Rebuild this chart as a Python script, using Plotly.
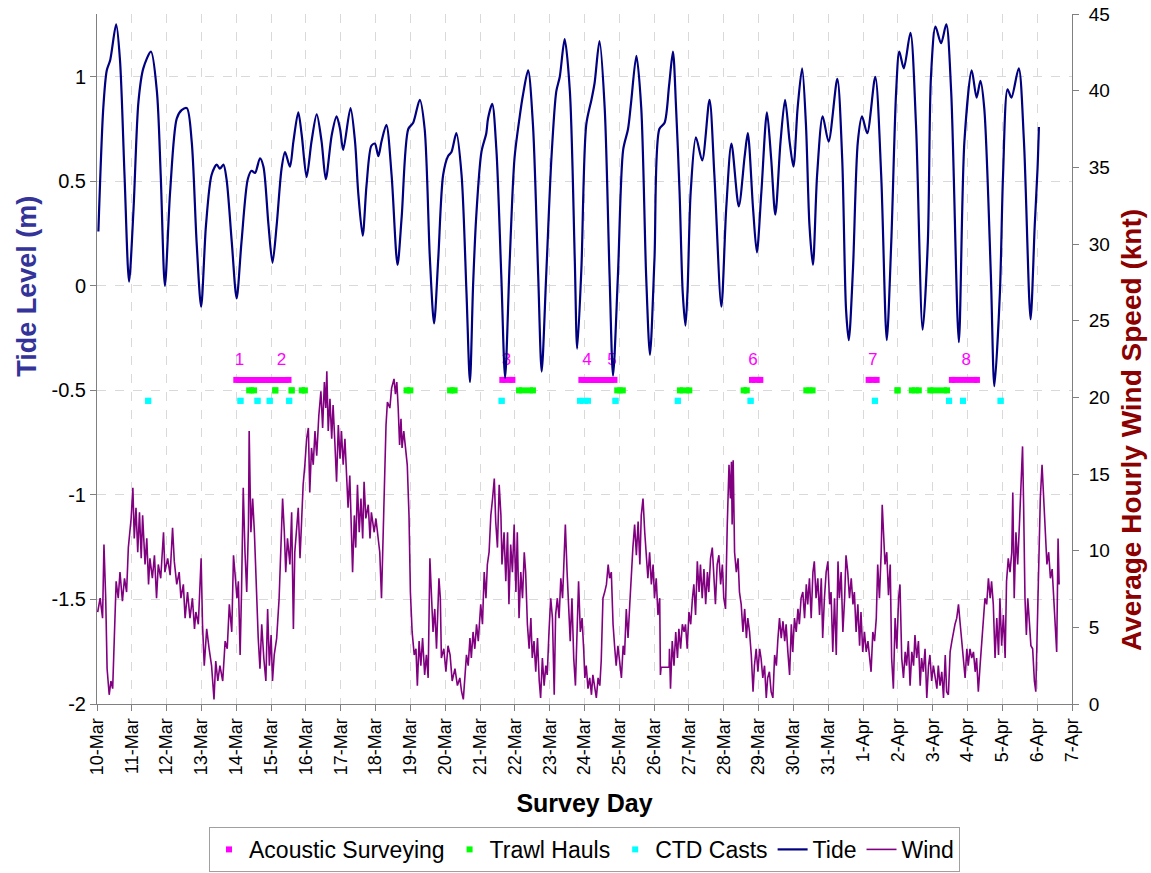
import pandas as pd
import plotly.graph_objects as go

# ---------------- data (day offsets from 10-Mar) ----------------
BASE = pd.Timestamp("2009-03-10")

tide_day = [
    0.04, 0.18, 0.28, 0.38, 0.55, 0.66, 0.79, 0.92, 1.05, 1.19,
    1.33, 1.55, 1.72, 1.83, 1.95, 2.10, 2.29, 2.43, 2.58, 2.72,
    2.86, 2.99, 3.13, 3.29, 3.44, 3.53, 3.63, 3.72, 3.87, 4.01,
    4.15, 4.33, 4.44, 4.54, 4.68, 4.78, 4.92, 5.04, 5.16, 5.30,
    5.40, 5.54, 5.64, 5.78, 5.88, 6.02, 6.16, 6.31, 6.45, 6.57,
    6.74, 6.88, 6.98, 7.07, 7.28, 7.41, 7.50, 7.63, 7.74, 7.88,
    7.98, 8.08, 8.17, 8.31, 8.46, 8.63, 8.75, 8.94, 9.08, 9.27,
    9.41, 9.56, 9.68, 9.80, 9.94, 10.08, 10.18, 10.32, 10.47, 10.61,
    10.71, 10.80, 10.89, 11.04, 11.18, 11.23, 11.35, 11.47, 11.61, 11.72,
    11.85, 11.99, 12.14, 12.23, 12.38, 12.52, 12.67, 12.77, 12.90, 13.05,
    13.19, 13.29, 13.43, 13.58, 13.72, 13.79, 13.91, 14.05, 14.20, 14.29,
    14.43, 14.58, 14.72, 14.82, 14.96, 15.11, 15.25, 15.34, 15.49, 15.63,
    15.77, 15.88, 16.01, 16.15, 16.30, 16.43, 16.54, 16.63, 16.73, 16.82,
    16.90, 16.96, 17.05, 17.20, 17.38, 17.59, 17.73, 17.93, 18.07, 18.22,
    18.43, 18.60, 18.69, 18.84, 18.95, 19.08, 19.24, 19.36, 19.48, 19.63,
    19.76, 19.89, 20.00, 20.12, 20.25, 20.36, 20.46, 20.56, 20.68, 20.84,
    21.01, 21.26, 21.40, 21.51, 21.59, 21.71, 21.85, 21.97, 22.12, 22.35,
    22.52, 22.68, 22.81, 22.95, 23.04, 23.17, 23.36, 23.52, 23.71, 23.86,
    23.95, 24.08, 24.24, 24.39, 24.53, 24.75, 24.91, 25.12, 25.26, 25.37,
    25.48, 25.67, 25.77, 25.93, 26.02, 26.15, 26.26, 26.47, 26.62, 26.81,
    26.93, 27.01, 27.05,
]
tide_m = [
    0.26, 0.85, 1.03, 1.08, 1.25, 1.08, 0.53, 0.02, 0.37, 0.88,
    1.04, 1.12, 0.93, 0.53, 0.00, 0.45, 0.80, 0.84, 0.85, 0.69,
    0.21, -0.10, 0.29, 0.53, 0.58, 0.56, 0.58, 0.51, 0.21, -0.06,
    0.21, 0.51, 0.55, 0.54, 0.61, 0.57, 0.30, 0.11, 0.29, 0.56,
    0.64, 0.57, 0.69, 0.83, 0.72, 0.52, 0.69, 0.82, 0.69, 0.51,
    0.72, 0.81, 0.75, 0.65, 0.85, 0.69, 0.45, 0.24, 0.48, 0.67,
    0.68, 0.62, 0.69, 0.77, 0.53, 0.10, 0.33, 0.75, 0.78, 0.89,
    0.75, 0.13, -0.18, 0.13, 0.53, 0.62, 0.64, 0.73, 0.53, -0.03,
    -0.46, 0.00, 0.33, 0.64, 0.73, 0.80, 0.87, 0.65, 0.05, -0.44,
    0.11, 0.61, 0.81, 0.91, 1.03, 0.77, 0.05, -0.41, 0.05, 0.61,
    0.93, 1.00, 1.18, 0.93, 0.13, -0.30, 0.08, 0.77, 0.89, 0.97,
    1.17, 0.85, 0.05, -0.43, 0.05, 0.65, 0.75, 0.88, 1.10, 0.85,
    0.05, -0.33, 0.13, 0.75, 0.78, 0.96, 1.12, 0.85, 0.45, -0.03,
    -0.19, -0.02, 0.45, 0.71, 0.60, 0.89, 0.53, -0.10, 0.37, 0.68,
    0.38, 0.62, 0.73, 0.37, 0.16, 0.45, 0.83, 0.61, 0.34, 0.69,
    0.89, 0.69, 0.57, 0.85, 1.04, 0.77, 0.29, 0.10, 0.53, 0.81,
    0.69, 0.99, 0.61, -0.11, -0.26, 0.08, 0.69, 0.81, 0.73, 1.00,
    0.53, -0.26, 0.21, 0.93, 1.12, 1.04, 1.21, 0.77, -0.21, 0.21,
    1.00, 1.24, 1.16, 1.25, 0.93, -0.27, 0.69, 1.03, 0.90, 0.98,
    0.85, 0.05, -0.48, -0.03, 0.53, 0.94, 0.90, 1.04, 0.69, -0.16,
    0.29, 0.56, 0.76,
]

wind_day = [
    0.02, 0.09, 0.16, 0.20, 0.25, 0.29, 0.35, 0.40, 0.45, 0.50,
    0.55, 0.61, 0.66, 0.73, 0.79, 0.85, 0.90, 0.98, 1.03, 1.07,
    1.12, 1.17, 1.22, 1.27, 1.31, 1.38, 1.43, 1.48, 1.52, 1.59,
    1.65, 1.71, 1.76, 1.83, 1.91, 1.95, 2.03, 2.10, 2.17, 2.22,
    2.29, 2.36, 2.41, 2.48, 2.53, 2.60, 2.67, 2.74, 2.80, 2.84,
    2.91, 2.99, 3.03, 3.08, 3.15, 3.22, 3.29, 3.36, 3.41, 3.47,
    3.53, 3.61, 3.68, 3.74, 3.80, 3.87, 3.92, 3.96, 4.02, 4.06,
    4.11, 4.15, 4.20, 4.25, 4.30, 4.35, 4.37, 4.42, 4.47, 4.52,
    4.58, 4.63, 4.68, 4.73, 4.79, 4.85, 4.90, 4.95, 5.00, 5.04,
    5.09, 5.16, 5.23, 5.28, 5.33, 5.38, 5.42, 5.47, 5.54, 5.59,
    5.64, 5.68, 5.73, 5.78, 5.83, 5.88, 5.92, 5.97, 6.02, 6.07,
    6.11, 6.16, 6.21, 6.26, 6.31, 6.37, 6.43, 6.48, 6.53, 6.57,
    6.60, 6.64, 6.69, 6.74, 6.78, 6.83, 6.88, 6.93, 6.98, 7.02,
    7.07, 7.12, 7.17, 7.21, 7.26, 7.31, 7.34, 7.39, 7.43, 7.48,
    7.53, 7.58, 7.63, 7.67, 7.72, 7.79, 7.84, 7.88, 7.96, 8.01,
    8.08, 8.12, 8.17, 8.21, 8.25, 8.30, 8.34, 8.41, 8.46, 8.53,
    8.57, 8.61, 8.65, 8.69, 8.73, 8.76, 8.81, 8.86, 8.91, 8.96,
    9.00, 9.05, 9.11, 9.16, 9.20, 9.25, 9.30, 9.35, 9.41, 9.46,
    9.51, 9.56, 9.61, 9.65, 9.70, 9.75, 9.82, 9.86, 9.89, 9.96,
    10.02, 10.08, 10.14, 10.20, 10.28, 10.35, 10.42, 10.47, 10.52, 10.56,
    10.61, 10.66, 10.71, 10.75, 10.80, 10.85, 10.90, 10.95, 11.02, 11.07,
    11.12, 11.17, 11.21, 11.26, 11.31, 11.36, 11.41, 11.45, 11.50, 11.55,
    11.60, 11.63, 11.69, 11.74, 11.79, 11.83, 11.88, 11.93, 11.98, 12.03,
    12.07, 12.12, 12.17, 12.22, 12.27, 12.31, 12.36, 12.41, 12.46, 12.50,
    12.55, 12.60, 12.65, 12.70, 12.74, 12.79, 12.84, 12.89, 12.93, 12.98,
    13.03, 13.08, 13.13, 13.17, 13.22, 13.27, 13.32, 13.37, 13.41, 13.45,
    13.50, 13.55, 13.59, 13.64, 13.69, 13.74, 13.79, 13.83, 13.88, 13.93,
    13.98, 14.01, 14.05, 14.10, 14.15, 14.20, 14.24, 14.29, 14.34, 14.39,
    14.44, 14.48, 14.53, 14.58, 14.63, 14.68, 14.72, 14.77, 14.82, 14.87,
    14.91, 14.96, 15.01, 15.06, 15.11, 15.15, 15.20, 15.25, 15.30, 15.34,
    15.39, 15.44, 15.49, 15.54, 15.59, 15.63, 15.68, 15.73, 15.78, 15.82,
    15.87, 15.92, 15.97, 16.01, 16.06, 16.11, 16.16, 16.18, 16.20, 16.43,
    16.44, 16.47, 16.52, 16.57, 16.62, 16.67, 16.71, 16.76, 16.81, 16.86,
    16.90, 16.95, 17.00, 17.05, 17.10, 17.14, 17.19, 17.24, 17.29, 17.33,
    17.38, 17.43, 17.48, 17.53, 17.57, 17.62, 17.67, 17.72, 17.76, 17.81,
    17.86, 17.91, 17.96, 18.00, 18.05, 18.10, 18.15, 18.19, 18.22, 18.24,
    18.27, 18.31, 18.36, 18.41, 18.45, 18.50, 18.55, 18.60, 18.65, 18.69,
    18.74, 18.79, 18.84, 18.88, 18.93, 18.98, 19.03, 19.07, 19.12, 19.17,
    19.22, 19.26, 19.31, 19.36, 19.41, 19.46, 19.51, 19.55, 19.60, 19.65,
    19.70, 19.75, 19.79, 19.84, 19.89, 19.94, 19.98, 20.03, 20.08, 20.13,
    20.17, 20.22, 20.27, 20.32, 20.37, 20.41, 20.46, 20.51, 20.56, 20.60,
    20.65, 20.70, 20.75, 20.80, 20.84, 20.89, 20.94, 20.99, 21.04, 21.08,
    21.13, 21.18, 21.23, 21.28, 21.32, 21.37, 21.42, 21.47, 21.51, 21.56,
    21.61, 21.66, 21.71, 21.75, 21.80, 21.85, 21.90, 21.94, 21.99, 22.04,
    22.09, 22.14, 22.18, 22.23, 22.28, 22.33, 22.38, 22.42, 22.47, 22.52,
    22.55, 22.59, 22.63, 22.68, 22.73, 22.78, 22.82, 22.87, 22.92, 22.97,
    23.02, 23.06, 23.11, 23.16, 23.21, 23.25, 23.30, 23.35, 23.40, 23.45,
    23.49, 23.54, 23.59, 23.64, 23.68, 23.73, 23.78, 23.83, 23.88, 23.92,
    23.97, 24.02, 24.07, 24.12, 24.16, 24.21, 24.26, 24.31, 24.36, 24.40,
    24.45, 24.50, 24.55, 24.59, 24.64, 24.69, 24.74, 24.79, 24.83, 24.88,
    24.93, 24.98, 25.02, 25.07, 25.12, 25.17, 25.22, 25.26, 25.31, 25.36,
    25.41, 25.45, 25.50, 25.55, 25.60, 25.65, 25.69, 25.74, 25.79, 25.84,
    25.89, 25.93, 25.98, 26.03, 26.08, 26.12, 26.17, 26.22, 26.27, 26.30,
    26.34, 26.39, 26.44, 26.49, 26.54, 26.58, 26.61, 26.65, 26.69, 26.73,
    26.78, 26.82, 26.87, 26.92, 26.96, 27.00, 27.04, 27.09, 27.14, 27.19,
    27.23, 27.28, 27.33, 27.38, 27.43, 27.47, 27.52, 27.56, 27.60, 27.63,
]
wind_knt = [
    6.0, 6.9, 5.6, 10.4, 6.9, 2.3, 0.6, 1.5, 1.0, 4.7,
    8.0, 6.9, 8.6, 6.7, 8.2, 7.3, 10.2, 12.1, 14.1, 10.8,
    12.8, 9.9, 12.5, 9.5, 12.3, 9.1, 10.8, 7.8, 9.5, 8.2,
    9.7, 6.9, 9.1, 8.2, 11.2, 8.6, 9.5, 8.4, 11.5, 9.3,
    7.8, 8.6, 6.9, 7.8, 5.6, 7.3, 5.6, 6.9, 4.9, 6.0,
    5.2, 9.5, 5.2, 2.5, 4.9, 3.6, 2.5, 0.3, 2.8, 1.5,
    2.5, 1.5, 4.1, 3.6, 6.5, 4.7, 9.7, 8.6, 6.9, 8.0,
    3.2, 7.3, 14.1, 9.9, 7.3, 11.7, 17.8, 11.2, 13.4, 11.2,
    7.3, 4.3, 2.3, 5.2, 3.0, 1.5, 6.2, 2.5, 4.5, 1.5,
    3.2, 4.3, 6.9, 9.9, 13.4, 11.2, 8.6, 10.8, 9.1, 12.5,
    4.9, 9.9, 11.7, 12.8, 9.5, 13.0, 14.3, 15.6, 17.3, 18.0,
    13.8, 16.7, 15.6, 17.8, 16.2, 18.8, 20.4, 18.0, 21.0, 19.3,
    21.7, 17.8, 19.9, 17.3, 19.5, 17.1, 14.5, 18.2, 16.0, 17.8,
    15.6, 17.3, 14.5, 12.8, 14.9, 10.6, 8.6, 12.3, 10.2, 14.3,
    11.2, 13.4, 10.8, 14.5, 12.1, 13.0, 10.8, 12.5, 11.2, 12.1,
    10.8, 9.9, 6.9, 10.8, 14.5, 18.2, 19.7, 19.3, 20.6, 21.2,
    20.2, 21.0, 19.3, 16.9, 18.6, 16.7, 17.8, 16.5, 15.6, 12.3,
    7.3, 4.7, 3.2, 3.6, 1.2, 4.1, 2.5, 4.3, 1.9, 3.2,
    1.7, 9.5, 6.5, 4.7, 6.2, 3.6, 8.2, 6.9, 3.0, 3.6,
    2.1, 3.8, 3.2, 1.5, 2.3, 1.2, 1.7, 0.8, 0.3, 1.9,
    3.2, 2.5, 4.3, 3.0, 4.7, 3.6, 5.2, 4.1, 6.5, 5.2,
    8.6, 6.9, 9.1, 9.9, 12.3, 13.4, 14.7, 11.9, 10.2, 14.3,
    12.3, 9.1, 11.2, 8.0, 11.2, 6.5, 10.4, 8.6, 11.7, 7.3,
    11.2, 5.6, 8.6, 6.9, 9.9, 8.6, 5.2, 3.6, 5.6, 3.0,
    4.1, 2.1, 4.3, 1.5, 0.4, 3.0, 1.2, 2.5, 1.9, 4.7,
    6.9, 5.6, 0.6, 5.8, 6.9, 5.6, 8.2, 6.9, 9.1, 11.7,
    8.6, 6.5, 4.1, 6.9, 3.0, 1.2, 5.6, 8.0, 4.7, 5.6,
    3.4, 1.7, 2.5, 1.0, 1.7, 0.6, 1.9, 1.0, 0.4, 1.7,
    1.2, 2.8, 6.9, 7.3, 7.8, 9.1, 8.2, 8.6, 5.2, 3.6,
    2.5, 3.8, 2.5, 1.7, 3.8, 3.2, 6.2, 4.3, 6.5, 8.6,
    10.2, 11.7, 9.7, 11.9, 9.1, 12.3, 13.4, 11.2, 9.5, 8.2,
    9.9, 7.8, 9.1, 6.9, 8.2, 5.8, 6.9, 1.9, 2.4, 2.4,
    3.6, 1.0, 4.1, 2.5, 4.7, 3.0, 4.9, 3.6, 5.2, 4.7,
    5.2, 3.6, 6.0, 5.2, 6.9, 7.8, 5.8, 9.3, 7.3, 9.1,
    6.9, 8.8, 6.5, 8.6, 7.3, 9.5, 10.2, 8.2, 6.5, 9.1,
    9.7, 7.8, 9.1, 6.9, 6.2, 11.7, 15.6, 13.4, 15.8, 11.7,
    15.9, 9.9, 8.6, 9.5, 7.3, 6.5, 4.7, 6.2, 4.3, 5.6,
    4.7, 3.2, 0.8, 2.5, 3.6, 2.1, 3.6, 3.0, 1.7, 2.5,
    0.4, 1.7, 2.1, 0.8, 0.4, 3.2, 2.5, 4.1, 5.6, 4.3,
    5.4, 4.1, 5.2, 3.4, 1.9, 5.2, 3.4, 5.6, 4.7, 6.2,
    5.2, 6.9, 7.3, 5.6, 7.8, 6.5, 8.2, 5.6, 8.6, 9.3,
    6.9, 8.2, 5.8, 8.2, 4.3, 6.9, 8.6, 9.3, 6.5, 7.3,
    3.4, 6.9, 3.2, 9.3, 6.9, 8.6, 4.7, 6.9, 9.7, 8.6,
    6.9, 8.2, 6.5, 7.3, 4.7, 6.5, 3.8, 6.0, 3.4, 4.7,
    3.4, 4.1, 3.0, 2.1, 4.7, 4.1, 5.6, 9.1, 6.9, 9.9,
    13.0, 10.6, 9.1, 9.9, 7.1, 9.1, 3.0, 1.0, 5.6, 3.6,
    6.9, 7.8, 3.0, 1.7, 3.4, 2.5, 4.1, 1.2, 3.4, 2.5,
    4.5, 3.0, 4.1, 1.2, 3.0, 2.1, 3.6, 0.4, 2.5, 3.2,
    1.5, 2.5, 1.7, 1.0, 2.5, 1.2, 2.1, 0.4, 3.2, 0.8,
    0.6, 3.4, 4.1, 4.7, 5.2, 5.6, 6.5, 5.2, 4.3, 3.0,
    1.7, 3.6, 2.5, 3.6, 3.0, 3.4, 2.1, 3.0, 0.8, 2.5,
    4.3, 5.6, 6.9, 6.5, 8.2, 6.9, 8.0, 6.5, 3.0, 5.6,
    3.2, 6.9, 3.8, 5.8, 3.0, 8.0, 9.5, 8.6, 9.9, 13.8,
    6.9, 11.2, 9.1, 11.7, 14.9, 16.8, 13.0, 6.9, 4.5, 6.9,
    5.2, 3.8, 3.6, 1.5, 0.8, 4.7, 9.1, 13.4, 15.6, 13.0,
    10.6, 9.1, 9.9, 8.2, 8.8, 6.9, 4.7, 3.4, 10.8, 7.8,
]

# survey activities (start/end day offsets) and their plotting levels (m)
acoustic_start = [4.00, 11.64, 13.91, 18.81, 22.16, 24.55]
acoustic_end = [5.50, 11.93, 14.86, 19.05, 22.39, 25.27]
trawl_start = [4.37, 5.12, 5.59, 5.88, 8.89, 10.14, 12.12, 14.94, 16.74, 18.57, 20.37, 22.99, 23.40, 23.93]
trawl_end = [4.51, 5.12, 5.59, 5.97, 9.00, 10.27, 12.52, 15.10, 17.01, 18.66, 20.55, 22.99, 23.60, 24.41]
ctd_start = [1.47, 4.12, 4.61, 4.96, 5.52, 11.62, 13.87, 14.89, 16.68, 18.77, 22.34, 24.47, 24.87, 25.95]
ctd_end = [1.47, 4.12, 4.61, 4.96, 5.52, 11.62, 14.10, 14.89, 16.68, 18.77, 22.34, 24.47, 24.87, 25.95]
acoustic_level = -0.45
trawl_level = -0.50
ctd_level = -0.55

survey_labels = ["1", "2", "3", "4", "5", "6", "7", "8"]
survey_label_day = [4.09, 5.30, 11.76, 14.07, 14.79, 18.84, 22.28, 24.96]
survey_label_level = -0.36

tide_ticks = [-2, -1.5, -1, -0.5, 0, 0.5, 1]
tide_tick_text = ["-2", "-1.5", "-1", "-0.5", "0", "0.5", "1"]

assert len(tide_day) == len(tide_m)
assert len(wind_day) == len(wind_knt)


def to_dt(days):
    return [BASE + pd.Timedelta(days=d) for d in days]


def segments(starts, ends, level):
    xs, ys = [], []
    for s, e in zip(starts, ends):
        xs += [BASE + pd.Timedelta(days=s), BASE + pd.Timedelta(days=e), None]
        ys += [level, level, None]
    return xs, ys


FONT = "Liberation Sans, Arial, sans-serif"
fig = go.Figure()

activities = [
    ("Acoustic Surveying", acoustic_start, acoustic_end, acoustic_level, "#FF00FF", 1),
    ("Trawl Hauls", trawl_start, trawl_end, trawl_level, "#00FF00", 2),
    ("CTD Casts", ctd_start, ctd_end, ctd_level, "#00FFFF", 3),
]
for name, st, en, lvl, col, rank in activities:
    sx, sy = segments(st, en, lvl)
    fig.add_trace(go.Scatter(x=sx, y=sy, mode="lines", line=dict(color=col, width=6),
                             showlegend=False, hoverinfo="skip", legendgroup=name))
    fig.add_trace(go.Scatter(x=to_dt(st + en), y=[lvl] * (len(st) + len(en)), mode="markers",
                             marker=dict(symbol="square", size=6, color=col),
                             name=name, legendgroup=name, legendrank=rank))

fig.add_trace(go.Scatter(x=to_dt(survey_label_day), y=[survey_label_level] * len(survey_labels),
                         mode="text", text=survey_labels,
                         textfont=dict(color="#FF00FF", size=17, family=FONT),
                         showlegend=False, hoverinfo="skip"))

fig.add_trace(go.Scatter(x=to_dt(tide_day), y=tide_m, mode="lines", name="Tide",
                         line=dict(color="#000080", width=2.2, shape="spline", smoothing=0.8),
                         legendrank=4))
fig.add_trace(go.Scatter(x=to_dt(wind_day), y=wind_knt, mode="lines", name="Wind",
                         line=dict(color="#800080", width=1.6), yaxis="y2", legendrank=5))

grid = dict(showgrid=True, gridcolor="#D9D9D9", griddash="dash", gridwidth=1)

fig.update_layout(
    width=1151, height=873,
    margin=dict(l=97, r=79, t=14, b=169),
    paper_bgcolor="white", plot_bgcolor="white",
    font=dict(family=FONT, size=18, color="black"),
    xaxis=dict(
        type="date", automargin=False,
        range=[BASE, BASE + pd.Timedelta(days=28)],
        tick0=BASE, dtick=86400000, tickformat="%-d-%b", tickangle=-90,
        tickfont=dict(size=18),
        ticks="outside", ticklen=6, tickcolor="#808080",
        showline=True, linecolor="#808080", linewidth=1,
        title=dict(text="<b>Survey Day</b>", font=dict(size=25), standoff=20),
        zeroline=False, **grid,
    ),
    yaxis=dict(
        automargin=False,
        range=[-2, 1.3], tickvals=tide_ticks, ticktext=tide_tick_text,
        tickfont=dict(size=20),
        ticks="outside", ticklen=6, tickcolor="#808080",
        showline=True, linecolor="#808080", linewidth=1,
        zeroline=False,
        **grid,
    ),
    yaxis2=dict(
        overlaying="y", side="right", range=[0, 45], dtick=5, tick0=0, automargin=False,
        tickfont=dict(size=19),
        ticks="outside", ticklen=6, tickcolor="#808080", ticklabelstandoff=6,
        showline=True, linecolor="#808080", linewidth=1,
        showgrid=False, zeroline=False,
    ),
    legend=dict(
        orientation="h", x=0.5, xanchor="center",
        yref="container", y=0.0012, yanchor="bottom",
        bordercolor="#A0A0A0", borderwidth=1, bgcolor="white",
        font=dict(size=23), itemwidth=30, tracegroupgap=0,
    ),
    showlegend=True,
    annotations=[
        dict(text="<b>Tide Level (m)</b>", textangle=-90, xref="paper", yref="paper",
             x=-0.0718, y=0.606, xanchor="center", yanchor="middle", showarrow=False,
             font=dict(size=27, color="#333399", family=FONT)),
        dict(text="<b>Average Hourly Wind Speed (knt)</b>", textangle=-90, xref="paper", yref="paper",
             x=1.0605, y=0.397, xanchor="center", yanchor="middle", showarrow=False,
             font=dict(size=28, color="#8B0000", family=FONT)),
    ],
)

fig.write_html("out.html")
